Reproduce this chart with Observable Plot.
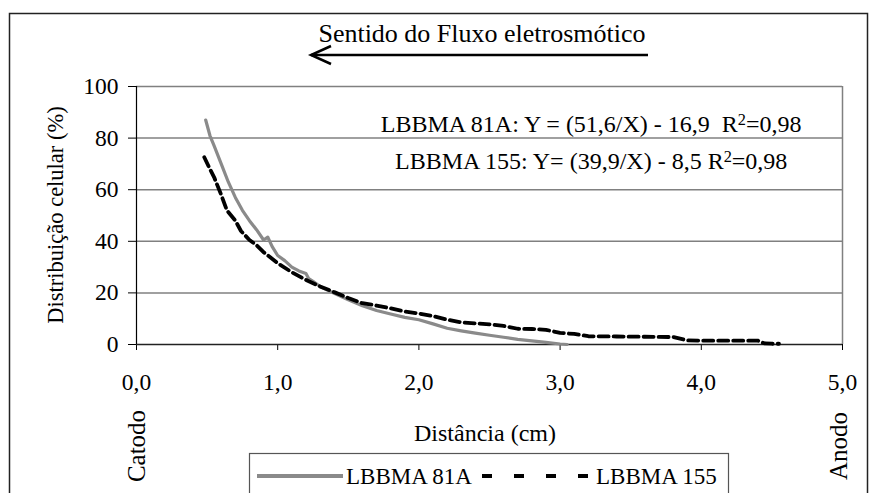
<!DOCTYPE html>
<html><head><meta charset="utf-8">
<script src="https://cdn.jsdelivr.net/npm/d3@7"></script>
<script src="https://cdn.jsdelivr.net/npm/@observablehq/plot@0.6"></script>
<style>body{margin:0;background:#fff} svg{display:block}</style>
</head><body><div id="chart"></div>
<script>
const seriesNames = ["LBBMA 81A", "LBBMA 155"];
const x81A = [0.49, 0.52, 0.55, 0.60, 0.65, 0.70, 0.75, 0.80, 0.85, 0.90, 0.93, 0.96, 1.00, 1.05, 1.10, 1.15, 1.20, 1.22, 1.25, 1.30, 1.40, 1.50, 1.60, 1.70, 1.80, 1.90, 2.00, 2.10, 2.20, 2.30, 2.40, 2.50, 2.60, 2.70, 2.80, 2.90, 3.00, 3.05];
const y81A = [87, 81, 77, 70, 63, 57, 52, 48, 44.5, 40.5, 41.6, 38, 34.5, 32.5, 30, 28.5, 27.5, 25.5, 24.5, 22.5, 19.8, 17.3, 15.0, 13.2, 11.8, 10.5, 9.6, 8.0, 6.3, 5.3, 4.4, 3.6, 2.8, 2.0, 1.4, 0.8, 0.2, 0];
const x155 = [0.48, 0.52, 0.55, 0.60, 0.64, 0.70, 0.74, 0.80, 0.85, 0.90, 1.00, 1.10, 1.20, 1.30, 1.40, 1.50, 1.60, 1.70, 1.80, 1.90, 2.00, 2.10, 2.20, 2.30, 2.40, 2.50, 2.60, 2.70, 2.80, 2.90, 3.00, 3.10, 3.20, 3.40, 3.60, 3.80, 3.90, 4.00, 4.20, 4.40, 4.45, 4.50, 4.55];
const y155 = [72.6, 68, 64.8, 58, 52, 48, 44, 40.5, 38.5, 35.8, 31.5, 28, 25, 22.5, 20.3, 18, 16, 15.1, 14, 12.8, 12, 11, 9.6, 8.6, 8.2, 7.8, 7.2, 6.1, 6.0, 5.7, 4.5, 4.1, 3.2, 3.1, 3.0, 2.9, 1.6, 1.5, 1.5, 1.5, 0.4, 0.3, 0.3];
const xTicks = [0, 1, 2, 3, 4, 5];
const yTicks = [0, 20, 40, 60, 80, 100];
const equations = ["LBBMA 81A: Y = (51,6/X) - 16,9  R²=0,98", "LBBMA 155: Y= (39,9/X) - 8,5 R²=0,98"];
const eqX = [3.22, 3.22];
const eqY = [85.3, 70.9];
const title = "Sentido do Fluxo eletrosmótico";
const xLabel = "Distância (cm)";
const yLabel = "Distribuição celular (%)";
const leftEnd = "Catodo", rightEnd = "Anodo";

const d81 = x81A.map((x, i) => ({x, y: y81A[i]}));
const d155 = x155.map((x, i) => ({x, y: y155[i]}));
const eqs = equations.map((t, i) => ({t, x: eqX[i], y: eqY[i]}));

const FONT = "'Liberation Serif', 'Times New Roman', serif";
const W = 869, H = 493;
const plot = Plot.plot({
  width: W, height: H,
  marginLeft: 136, marginRight: 27, marginTop: 86, marginBottom: 149,
  style: {fontFamily: FONT, fontSize: "23.5px", color: "#000", background: "#fff", overflow: "visible"},
  x: {domain: [0, 5]},
  y: {domain: [0, 100]},
  marks: [
    Plot.gridY(yTicks.filter(d => d > 0), {stroke: "#808080", strokeOpacity: 1, strokeWidth: 1.5}),
    Plot.ruleX([5], {stroke: "#808080", strokeWidth: 1.5}),
    Plot.axisY({ticks: yTicks, tickSize: 8, tickPadding: 10, tickFormat: d => String(d), label: null, fontSize: 23.5}),
    Plot.axisX({ticks: xTicks, tickSize: 6, tickPadding: 23, tickFormat: d => d.toFixed(1).replace(".", ","), label: null, fontSize: 23.5}),
    Plot.ruleY([0], {stroke: "#222", strokeWidth: 1.5}),
    Plot.ruleX([0], {stroke: "#000", strokeWidth: 1.2}),
    Plot.line(d81, {x: "x", y: "y", stroke: "#8a8a8a", strokeWidth: 3.2}),
    Plot.line(d155, {x: "x", y: "y", stroke: "#000", strokeWidth: 3.8, strokeDasharray: "10,5"}),
    Plot.text(eqs, {x: "x", y: "y", text: "t", fontSize: 24, fill: "#000", className: "eq"})
  ]
});
document.getElementById("chart").appendChild(plot);

const svg = d3.select(plot);
// render the R² as a real superscript
svg.selectAll("g.eq text").each(function() {
  const s = this.textContent;
  const i = s.indexOf("²");
  if (i < 0) return;
  const t = d3.select(this).text("");
  t.append("tspan").text(s.slice(0, i));
  t.append("tspan").attr("dy", "-0.45em").attr("font-size", "0.68em").text("2");
  t.append("tspan").attr("dy", "0.306em").text(s.slice(i + 1));
});
const txt = (sel, size) => sel.attr("font-family", FONT).attr("font-size", size).attr("fill", "#000");
// outer frame
svg.append("rect").attr("x", 9.5).attr("y", 13.5).attr("width", 858).attr("height", 520)
  .attr("fill", "none").attr("stroke", "#222").attr("stroke-width", 1.5);
// title + arrow
txt(svg.append("text").attr("x", 482).attr("y", 42).attr("text-anchor", "middle"), 26).text(title);
const ar = svg.append("g").attr("stroke", "#000").attr("stroke-width", 2.5).attr("fill", "none");
ar.append("line").attr("x1", 648).attr("y1", 55).attr("x2", 311).attr("y2", 55);
ar.append("path").attr("d", "M331,46 L311,55 L331,64");
// axis titles
txt(svg.append("text").attr("transform", "translate(63,215) rotate(-90)").attr("text-anchor", "middle"), 22.5).text(yLabel);
txt(svg.append("text").attr("x", 485).attr("y", 441).attr("text-anchor", "middle"), 24).text(xLabel);
txt(svg.append("text").attr("transform", "translate(145,446) rotate(-90)").attr("text-anchor", "middle"), 25).text(leftEnd);
txt(svg.append("text").attr("transform", "translate(847,446) rotate(-90)").attr("text-anchor", "middle"), 25).text(rightEnd);
// legend
const lg = svg.append("g");
lg.append("rect").attr("x", 249.5).attr("y", 453.5).attr("width", 479).attr("height", 60)
  .attr("fill", "#fff").attr("stroke", "#555").attr("stroke-width", 1.2);
lg.append("line").attr("x1", 257).attr("x2", 343).attr("y1", 476).attr("y2", 476)
  .attr("stroke", "#8a8a8a").attr("stroke-width", 4);
txt(lg.append("text").attr("x", 346).attr("y", 484).attr("text-anchor", "start"), 23).text(seriesNames[0]);
lg.append("line").attr("x1", 482).attr("x2", 590).attr("y1", 476).attr("y2", 476)
  .attr("stroke", "#000").attr("stroke-width", 4).attr("stroke-dasharray", "10,22");
txt(lg.append("text").attr("x", 596).attr("y", 484).attr("text-anchor", "start"), 23).text(seriesNames[1]);
</script></body></html>
